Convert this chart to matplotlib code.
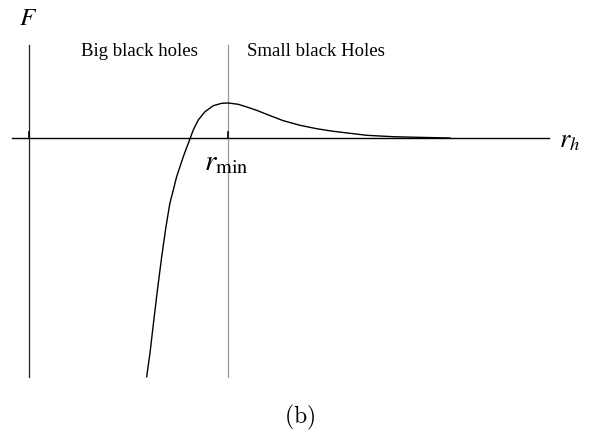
import matplotlib.pyplot as plt

# free energy curve F(r_h)
r_vals = [1.180, 1.213, 1.248, 1.288, 1.331, 1.374, 1.413, 1.439, 1.481, 1.548,
          1.580, 1.611, 1.648, 1.698, 1.766, 1.849, 1.934, 2.000, 2.100, 2.218,
          2.298, 2.386, 2.553, 2.721, 2.888, 3.055, 3.223, 3.391, 3.655, 3.894,
          4.228]
F_vals = [-2.387, -2.153, -1.853, -1.520, -1.187, -0.887, -0.653, -0.553, -0.387, -0.187,
          -0.100, -0.020, 0.080, 0.180, 0.263, 0.323, 0.347, 0.350, 0.337, 0.300,
          0.272, 0.237, 0.173, 0.127, 0.093, 0.067, 0.047, 0.027, 0.013, 0.007,
          0.0]

r_min = 2.0
x_axis_span = [-0.174, 5.22]
y_axis_span = [-2.39, 0.93]

plt.rcParams['mathtext.fontset'] = 'stix'

fig = plt.figure(figsize=(5.89, 4.36), dpi=100)
ax = fig.add_axes([0, 0, 1, 1])
ax.set_xlim(-0.294, 5.625)
ax.set_ylim(-2.98, 1.38)
ax.axis('off')

# axes
ax.plot(x_axis_span, [0, 0], color='black', lw=1.0)
ax.plot([0, 0], y_axis_span, color='#222222', lw=0.9)
ax.plot([r_min, r_min], y_axis_span, color='#999999', lw=0.9)
# small ticks
ax.plot([0, 0], [0, 0.06], color='black', lw=1.2)
ax.plot([r_min, r_min], [0, 0.06], color='black', lw=1.2)

ax.plot(r_vals, F_vals, color='black', lw=1.0, solid_joinstyle='round')

ax.text(-0.01, 1.2, r'$F$', fontsize=18, ha='center', va='center')
ax.text(5.43, -0.02, r'$r_h$', fontsize=19, ha='center', va='center')
ax.text(1.985, -0.24, r'$r_{\min}$', fontsize=21, ha='center', va='center')

ax.text(1.11, 0.86, 'Big black holes', family='Liberation Serif', fontsize=13.5,
        ha='center', va='center')
ax.text(2.876, 0.86, 'Small black Holes', family='Liberation Serif', fontsize=13.5,
        ha='center', va='center')

fig.text(0.509, 0.043, r'$\mathrm{(b)}$', fontsize=17, ha='center', va='center',
         math_fontfamily='cm')

fig.savefig('out.png', dpi=100)
